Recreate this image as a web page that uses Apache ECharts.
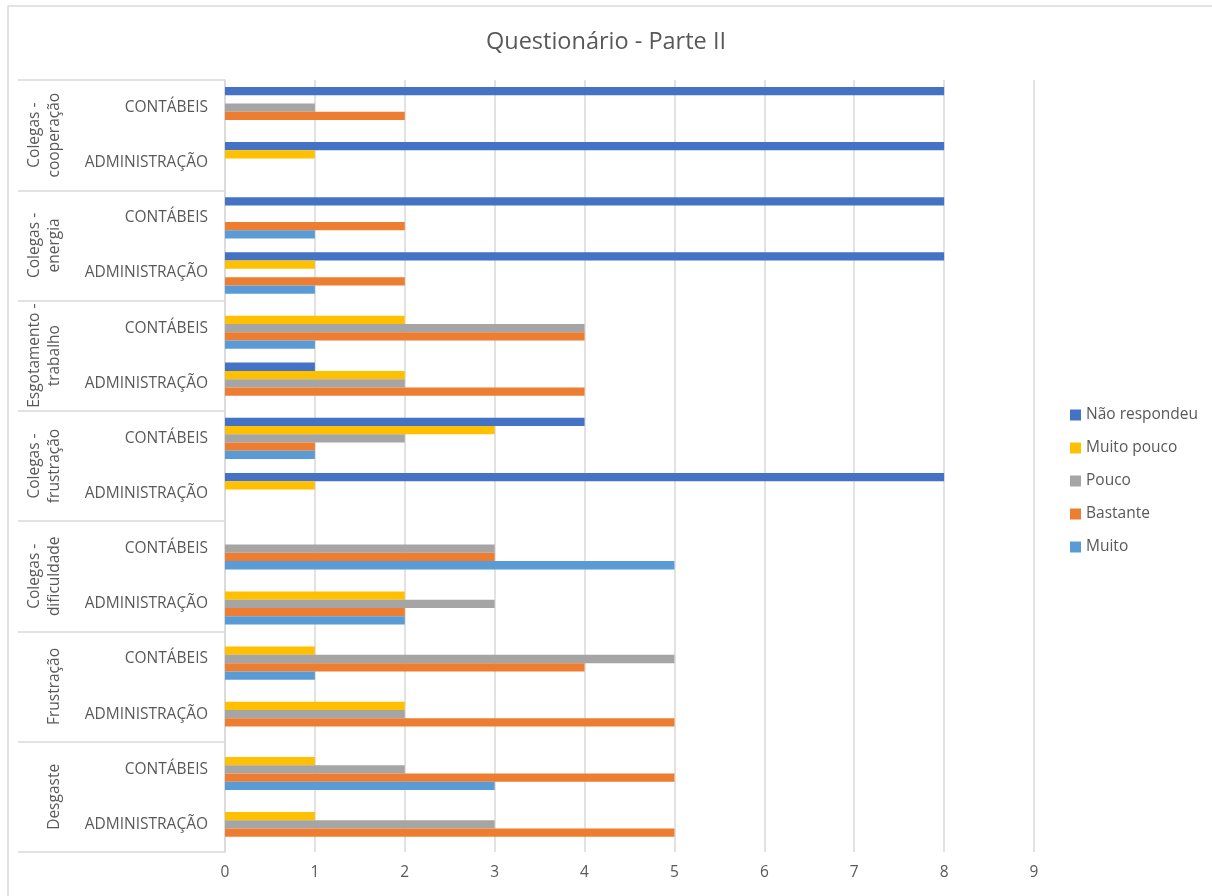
<!DOCTYPE html>
<html>
<head>
<meta charset="utf-8">
<title>Questionário - Parte II</title>
<script src="https://cdn.jsdelivr.net/npm/echarts@6/dist/echarts.min.js"></script>
<style>
  html, body { margin: 0; padding: 0; background: #ffffff; }
  #chart { width: 1212px; height: 896px; }
</style>
</head>
<body>
<div id="chart"></div>
<script>
// Inner category labels, listed bottom to top
const courses = ['ADMINISTRAÇÃO', 'CONTÁBEIS'];
// Outer groups, bottom to top
const groups = [
  'Desgaste',
  'Frustração',
  'Colegas -\ndificuldade',
  'Colegas -\nfrustração',
  'Esgotamento -\ntrabalho',
  'Colegas -\nenergia',
  'Colegas -\ncooperação'
];
const xTicks = [0, 1, 2, 3, 4, 5, 6, 7, 8, 9];

// Answer counts per row (bottom to top: Desgaste ADM, Desgaste CONT, ...)
const naoRespondeu = [0, 0, 0, 0, 0, 0, 8, 4, 1, 0, 8, 8, 8, 8];
const muitoPouco   = [1, 1, 2, 1, 2, 0, 1, 3, 2, 2, 1, 0, 1, 0];
const pouco        = [3, 2, 2, 5, 3, 3, 0, 2, 2, 4, 0, 0, 0, 1];
const bastante     = [5, 5, 5, 4, 2, 3, 0, 1, 4, 4, 2, 2, 0, 2];
const muito        = [0, 3, 0, 1, 2, 5, 0, 1, 0, 1, 1, 1, 0, 0];

const rows = [];
groups.forEach(() => courses.forEach(c => rows.push(c)));

const TEXT = '#595959';
const LINE = '#d9d9d9';
const FONT = '"Open Sans", "Noto Sans", sans-serif';
const LABEL_SIZE = 15.5;

function bar(name, data, color) {
  return {
    name: name,
    type: 'bar',
    data: data,
    barGap: '0%',
    barCategoryGap: '25%',
    itemStyle: { color: color },
    emphasis: { disabled: true }
  };
}

const chart = echarts.init(document.getElementById('chart'), null, { renderer: 'canvas' });
chart.setOption({
  animation: false,
  backgroundColor: '#ffffff',
  textStyle: { fontFamily: FONT },
  title: {
    text: 'Questionário - Parte II',
    left: 'center',
    top: 25,
    textStyle: { color: TEXT, fontSize: 23.5, fontWeight: 'normal', fontFamily: FONT }
  },
  legend: {
    orient: 'vertical',
    left: 1065,
    top: 402,
    itemWidth: 11,
    itemHeight: 11,
    itemGap: 17,
    icon: 'rect',
    textStyle: { color: TEXT, fontSize: LABEL_SIZE, fontFamily: FONT },
    data: ['Não respondeu', 'Muito pouco', 'Pouco', 'Bastante', 'Muito']
  },
  graphic: [{
    type: 'rect',
    shape: { x: 8, y: 6, width: 1300, height: 1000 },
    style: { fill: 'none', stroke: LINE, lineWidth: 1.5 },
    silent: true,
    z: -10
  }],
  grid: { left: 225, right: 178, top: 80, bottom: 44, containLabel: false },
  xAxis: {
    type: 'value',
    min: 0,
    max: 9,
    interval: 1,
    axisLine: { show: false },
    axisTick: { show: false },
    axisLabel: {
      color: TEXT, fontSize: LABEL_SIZE, margin: 13, fontFamily: FONT,
      formatter: v => (xTicks.indexOf(v) >= 0 ? String(v) : '')
    },
    splitLine: { show: true, lineStyle: { color: LINE, width: 1.5 } }
  },
  yAxis: [{
    type: 'category',
    data: rows,
    position: 'left',
    axisLine: { show: true, lineStyle: { color: LINE, width: 1.5 } },
    axisTick: { show: false },
    axisLabel: { color: TEXT, fontSize: LABEL_SIZE, margin: 17, interval: 0, fontFamily: FONT }
  }, {
    type: 'category',
    data: groups,
    position: 'left',
    axisLine: { show: false },
    axisTick: {
      show: true,
      length: 207,
      interval: 0,
      alignWithLabel: false,
      lineStyle: { color: LINE, width: 1.5 }
    },
    axisLabel: {
      color: TEXT, fontSize: LABEL_SIZE, margin: 160, rotate: 90, interval: 0,
      lineHeight: 20, fontFamily: FONT
    }
  }],
  series: [
    bar('Não respondeu', naoRespondeu, '#4472c4'),
    bar('Muito pouco', muitoPouco, '#ffc000'),
    bar('Pouco', pouco, '#a5a5a5'),
    bar('Bastante', bastante, '#ed7d31'),
    bar('Muito', muito, '#5b9bd5')
  ]
});
</script>
</body>
</html>
